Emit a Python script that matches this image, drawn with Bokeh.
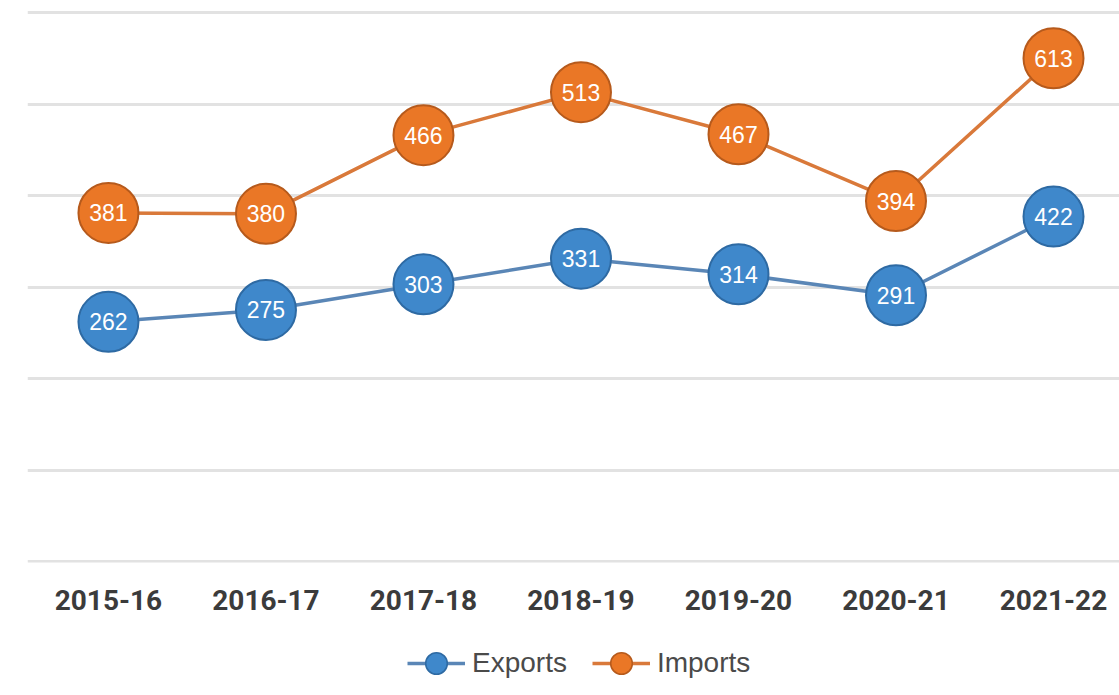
from bokeh.plotting import figure
from bokeh.layouts import column
from bokeh.models import ColumnDataSource, Legend, LegendItem, FixedTicker, Range1d
from bokeh.embed import file_html
from bokeh.resources import INLINE
from bokeh.core.properties import value

# ---- data ----
years = ["2015-16", "2016-17", "2017-18", "2018-19", "2019-20", "2020-21", "2021-22"]
export_labels = [262, 275, 303, 331, 314, 291, 422]
import_labels = [381, 380, 466, 513, 467, 394, 613]
# heights at which the points are drawn in the picture (last points sit lower than their labels)
export_heights = [262, 275, 303, 331, 314, 291, 377]
import_heights = [381, 380, 466, 513, 467, 394, 550]
grid_values = [0, 100, 200, 300, 400, 500, 600]
series_names = ["Exports", "Imports"]

xs = list(range(len(years)))
src = ColumnDataSource(dict(
    x=xs,
    ey=export_heights, iy=import_heights,
    et=[str(v) for v in export_labels], it=[str(v) for v in import_labels],
))

BLUE_FILL, BLUE_LINE, BLUE_EDGE = "#3f88cb", "#5a86b6", "#2e6aa3"
ORANGE_FILL, ORANGE_LINE, ORANGE_EDGE = "#ea7726", "#d9793a", "#b65a1c"

p = figure(frame_width=1092, frame_height=554, output_backend="svg", toolbar_location=None,
           x_range=Range1d(-0.514, 6.419), y_range=Range1d(-1, 604.4),
           y_axis_location=None,
           min_border_left=27, min_border_right=0, min_border_top=8, min_border_bottom=66)
p.outline_line_color = None
p.background_fill_color = "white"
p.border_fill_color = "white"

p.xgrid.visible = False
p.ygrid.ticker = FixedTicker(ticks=grid_values)
p.ygrid.grid_line_color = "#e2e2e2"
p.ygrid.grid_line_width = 3

xa = p.xaxis[0]
xa.ticker = FixedTicker(ticks=xs)
xa.major_label_overrides = {i: y for i, y in enumerate(years)}
xa.axis_line_color = None
xa.major_tick_line_color = None
xa.minor_tick_line_color = None
xa.major_tick_out = 0
xa.major_tick_in = 0
xa.major_label_standoff = 27
xa.major_label_text_font = "Roboto"
xa.major_label_text_font_size = "28px"
xa.major_label_text_font_style = "bold"
xa.major_label_text_color = "#3b3b3b"

p.line("x", "ey", source=src, line_color=BLUE_LINE, line_width=3.5)
p.scatter("x", "ey", source=src, size=60, fill_color=BLUE_FILL,
          line_color=BLUE_EDGE, line_width=2)
p.line("x", "iy", source=src, line_color=ORANGE_LINE, line_width=3.5)
p.scatter("x", "iy", source=src, size=60, fill_color=ORANGE_FILL,
          line_color=ORANGE_EDGE, line_width=2)

for col, ycol in (("et", "ey"), ("it", "iy")):
    p.text("x", ycol, text=col, source=src, text_align="center", text_baseline="middle",
           text_color="white", text_font=value("Liberation Sans"), text_font_size="23px")

# ---- legend strip below the chart ----
q = figure(width=1119, height=62, output_backend="svg", toolbar_location=None,
           x_range=Range1d(0, 1), y_range=Range1d(0, 1),
           x_axis_location=None, y_axis_location=None, min_border=0)
q.outline_line_color = None
q.grid.visible = False
off = ColumnDataSource(dict(x=[5], y=[5]))
items = []
for name, lc, fc, ec in ((series_names[0], BLUE_LINE, BLUE_FILL, BLUE_EDGE),
                         (series_names[1], ORANGE_LINE, ORANGE_FILL, ORANGE_EDGE)):
    r1 = q.line("x", "y", source=off, line_color=lc, line_width=3.5)
    r2 = q.scatter("x", "y", source=off, size=22, fill_color=fc, line_color=ec, line_width=1.5)
    items.append(LegendItem(label=name, renderers=[r1, r2]))

legend = Legend(items=items, orientation="horizontal", location=(380, 0),
                glyph_width=58, glyph_height=54, label_standoff=7, spacing=25,
                padding=0, margin=0, border_line_color=None,
                background_fill_alpha=0,
                label_text_font="Liberation Sans", label_text_font_size="28px",
                label_text_color="#4a4a4a")
q.add_layout(legend, "center")

layout = column(p, q, spacing=0)
open("out.html", "w").write(file_html(layout, INLINE))
